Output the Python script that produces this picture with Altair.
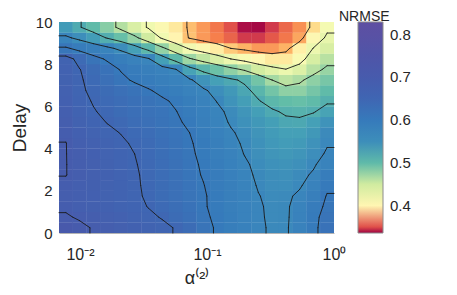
import altair as alt
import numpy as np
import pandas as pd

# ---- data ----
alpha = [0.007746, 0.009938, 0.01275, 0.01636, 0.02100, 0.02694, 0.03457, 0.04436,
         0.05693, 0.07304, 0.09373, 0.1202, 0.1542, 0.1978, 0.2539, 0.3257,
         0.4179, 0.5362, 0.6882, 0.8829]
delay = [0.25, 0.75, 1.25, 1.75, 2.25, 2.75, 3.25, 3.75, 4.25, 4.75,
         5.25, 5.75, 6.25, 6.75, 7.25, 7.75, 8.25, 8.75, 9.25, 9.75]

d9_75 = [0.535, 0.517, 0.499, 0.482, 0.463, 0.442, 0.422, 0.407, 0.392, 0.377, 0.368, 0.360, 0.350, 0.338, 0.337, 0.346, 0.356, 0.366, 0.385, 0.419]
d9_25 = [0.566, 0.551, 0.533, 0.513, 0.495, 0.477, 0.450, 0.421, 0.399, 0.378, 0.368, 0.362, 0.355, 0.346, 0.346, 0.352, 0.360, 0.371, 0.405, 0.430]
d8_75 = [0.610, 0.594, 0.582, 0.568, 0.552, 0.529, 0.504, 0.477, 0.448, 0.421, 0.407, 0.394, 0.380, 0.374, 0.368, 0.368, 0.374, 0.396, 0.426, 0.443]
d8_25 = [0.665, 0.638, 0.616, 0.601, 0.588, 0.575, 0.563, 0.530, 0.501, 0.473, 0.457, 0.442, 0.425, 0.414, 0.402, 0.392, 0.392, 0.412, 0.444, 0.461]
d7_75 = [0.667, 0.651, 0.635, 0.619, 0.603, 0.593, 0.583, 0.572, 0.561, 0.527, 0.506, 0.493, 0.479, 0.466, 0.448, 0.436, 0.426, 0.439, 0.461, 0.475]
d7_25 = [0.671, 0.654, 0.639, 0.626, 0.612, 0.601, 0.592, 0.583, 0.573, 0.564, 0.545, 0.529, 0.520, 0.510, 0.490, 0.470, 0.459, 0.466, 0.479, 0.488]
d6_75 = [0.675, 0.655, 0.644, 0.635, 0.626, 0.617, 0.608, 0.597, 0.586, 0.574, 0.564, 0.551, 0.538, 0.522, 0.506, 0.490, 0.479, 0.479, 0.489, 0.499]
d6_25 = [0.677, 0.659, 0.648, 0.639, 0.632, 0.624, 0.617, 0.610, 0.600, 0.586, 0.573, 0.559, 0.545, 0.531, 0.517, 0.504, 0.497, 0.495, 0.499, 0.511]
d5_75 = [0.682, 0.664, 0.652, 0.644, 0.636, 0.628, 0.621, 0.614, 0.606, 0.593, 0.580, 0.566, 0.554, 0.542, 0.530, 0.519, 0.511, 0.509, 0.513, 0.526]
d5_25 = [0.686, 0.671, 0.659, 0.649, 0.642, 0.633, 0.625, 0.617, 0.610, 0.599, 0.585, 0.571, 0.557, 0.547, 0.538, 0.530, 0.521, 0.520, 0.529, 0.545]
d4_75 = [0.691, 0.677, 0.666, 0.657, 0.649, 0.640, 0.632, 0.623, 0.614, 0.605, 0.591, 0.576, 0.563, 0.553, 0.543, 0.535, 0.529, 0.529, 0.538, 0.555]
d4_25 = [0.6955, 0.683, 0.673, 0.663, 0.655, 0.646, 0.637, 0.628, 0.618, 0.608, 0.596, 0.583, 0.568, 0.556, 0.547, 0.539, 0.534, 0.536, 0.546, 0.558]
d3_75 = [0.6955, 0.686, 0.676, 0.666, 0.658, 0.650, 0.639, 0.629, 0.619, 0.610, 0.598, 0.585, 0.572, 0.559, 0.549, 0.542, 0.538, 0.542, 0.551, 0.563]
d3_25 = [0.6955, 0.688, 0.679, 0.670, 0.661, 0.652, 0.642, 0.632, 0.622, 0.612, 0.601, 0.589, 0.576, 0.564, 0.553, 0.547, 0.544, 0.548, 0.557, 0.571]
d2_75 = [0.6955, 0.688, 0.680, 0.672, 0.664, 0.654, 0.643, 0.633, 0.623, 0.613, 0.603, 0.592, 0.579, 0.566, 0.556, 0.550, 0.548, 0.554, 0.563, 0.589]
d2_25 = [0.691, 0.684, 0.678, 0.671, 0.663, 0.654, 0.645, 0.635, 0.625, 0.615, 0.606, 0.593, 0.582, 0.570, 0.558, 0.552, 0.551, 0.557, 0.573, 0.599]
d1_75 = [0.688, 0.683, 0.677, 0.670, 0.663, 0.655, 0.646, 0.636, 0.626, 0.616, 0.608, 0.596, 0.584, 0.573, 0.561, 0.554, 0.555, 0.565, 0.584, 0.607]
d1_25 = [0.691, 0.684, 0.678, 0.672, 0.664, 0.658, 0.649, 0.639, 0.629, 0.619, 0.608, 0.597, 0.585, 0.574, 0.563, 0.555, 0.556, 0.571, 0.592, 0.611]
d0_75 = [0.698, 0.692, 0.686, 0.680, 0.673, 0.664, 0.656, 0.648, 0.636, 0.624, 0.611, 0.599, 0.587, 0.575, 0.564, 0.555, 0.556, 0.573, 0.597, 0.616]
d0_25 = [0.709, 0.701, 0.693, 0.686, 0.679, 0.672, 0.664, 0.657, 0.648, 0.635, 0.616, 0.601, 0.588, 0.576, 0.565, 0.556, 0.557, 0.573, 0.598, 0.619]

rows = [d0_25, d0_75, d1_25, d1_75, d2_25, d2_75, d3_25, d3_75, d4_25, d4_75,
        d5_25, d5_75, d6_25, d6_75, d7_25, d7_75, d8_25, d8_75, d9_25, d9_75]

contour_levels = [0.38, 0.425, 0.47, 0.515, 0.56, 0.605, 0.65, 0.695]

x_ticks = [0.01, 0.1, 1]
y_ticks = [0, 2, 4, 6, 8, 10]
cbar_ticks = [0.4, 0.5, 0.6, 0.7, 0.8]

# colour map (Spectral-like, as on the colour bar)
cmap_stops = [0.3356, 0.343, 0.350, 0.362, 0.374, 0.386, 0.400, 0.417, 0.45, 0.473,
              0.497, 0.53, 0.56, 0.60, 0.65, 0.72, 0.83]
cmap_colors = ["#9e0142", "#c52a4e", "#e0504a", "#f67f4c", "#fdb365", "#fee08f",
               "#fff6b2", "#f6fbb3", "#d0eba0", "#9dd6a4", "#62bda8", "#449fb7",
               "#3a86bc", "#367abb", "#3f66b3", "#4a57aa", "#5e4fa2"]

# ---- build tables ----
Z = np.array(rows)
la = np.log10(np.array(alpha))
step = float(np.mean(np.diff(la)))
x_lo = 10 ** (la[0] - step / 2)
x_hi = 10 ** (la[-1] + step / 2)
dy = 0.5
ov = 1.03  # tiny overlap so that neighbouring cells leave no hairline seams

cells = []
for i, d in enumerate(delay):
    for j in range(len(alpha)):
        cells.append(dict(a0=max(x_lo, 10 ** (la[j] - ov * step / 2)),
                          a1=min(x_hi, 10 ** (la[j] + ov * step / 2)),
                          d0=max(0.0, d - ov * dy / 2), d1=min(10.0, d + ov * dy / 2),
                          v=float(Z[i, j])))
cells = pd.DataFrame(cells)

# contour segments (marching squares on the grid; edges padded to reach the frame)
Xn = np.concatenate([[la[0] - step / 2], la, [la[-1] + step / 2]])
Yn = np.concatenate([[0.0], np.array(delay), [10.0]])
Zp = np.pad(Z, 1, mode="edge")


def segments(level):
    out = []
    ny, nx = Zp.shape
    for i in range(ny - 1):
        for j in range(nx - 1):
            corners = [((Xn[j], Yn[i]), Zp[i, j]), ((Xn[j + 1], Yn[i]), Zp[i, j + 1]),
                       ((Xn[j + 1], Yn[i + 1]), Zp[i + 1, j + 1]), ((Xn[j], Yn[i + 1]), Zp[i + 1, j])]
            pts = []
            for k in range(4):
                (p1, v1), (p2, v2) = corners[k], corners[(k + 1) % 4]
                if (v1 < level) != (v2 < level):
                    t = (level - v1) / (v2 - v1)
                    pts.append((p1[0] + t * (p2[0] - p1[0]), p1[1] + t * (p2[1] - p1[1])))
                else:
                    pts.append(None)
            hit = [p for p in pts if p is not None]
            if len(hit) == 2:
                out.append((hit[0], hit[1]))
            elif len(hit) == 4:
                center = np.mean([c[1] for c in corners])
                if (center < level) == (corners[0][1] < level):
                    out.append((pts[0], pts[1]))
                    out.append((pts[2], pts[3]))
                else:
                    out.append((pts[3], pts[0]))
                    out.append((pts[1], pts[2]))
    return out


segs = []
for lev in contour_levels:
    for (p, q) in segments(lev):
        segs.append(dict(sx0=10 ** p[0], sy0=p[1], sx1=10 ** q[0], sy1=q[1], level=lev))
segs = pd.DataFrame(segs)

# ---- chart ----
TXT = "#262626"
xscale = alt.Scale(type="log", domain=[x_lo, x_hi], nice=False)
yscale = alt.Scale(domain=[0, 10], nice=False)
cscale = alt.Scale(domain=cmap_stops, range=cmap_colors, interpolate="rgb")

xaxis = alt.Axis(values=x_ticks, title="α⁽²⁾",
                 labelExpr="datum.value < 0.05 ? '10⁻²' : (datum.value < 0.5 ? '10⁻¹' : '10⁰')",
                 grid=False, ticks=False, domain=True, domainColor="#b4b4b4",
                 labelFontSize=16, titleFontSize=18, titleFontWeight="normal",
                 labelPadding=13, titleBaseline="bottom", titleY=54,
                 labelColor=TXT, titleColor=TXT, labelFlush=False)
yaxis = alt.Axis(values=y_ticks, title="Delay", grid=False, ticks=False, domain=False,
                 labelFontSize=15, titleFontSize=19, titleFontWeight="normal",
                 labelPadding=7, titlePadding=6, labelColor=TXT, titleColor=TXT)

heat = alt.Chart(cells).mark_rect().encode(
    x=alt.X("a0:Q", scale=xscale, axis=xaxis),
    x2="a1:Q",
    y=alt.Y("d0:Q", scale=yscale, axis=yaxis),
    y2="d1:Q",
    color=alt.Color("v:Q", scale=cscale,
                    legend=alt.Legend(type="gradient", title=None, orient="none",
                                      legendX=299, legendY=0, padding=0,
                                      direction="vertical", gradientLength=211,
                                      gradientThickness=25, values=cbar_ticks, format=".1f",
                                      labelFontSize=15, labelColor=TXT, labelOffset=7,
                                      gradientStrokeColor="#8c8c8c",
                                      gradientStrokeWidth=1)),
)

lines = alt.Chart(segs).mark_rule(color="#1a1a1a", strokeWidth=0.9, strokeCap="round").encode(
    x=alt.X("sx0:Q", scale=xscale, axis=xaxis),
    x2="sx1:Q",
    y=alt.Y("sy0:Q", scale=yscale, axis=yaxis),
    y2="sy1:Q",
)

chart = alt.layer(heat, lines).properties(
    width=275, height=211,
    title=alt.TitleParams(text="NRMSE", anchor="start", frame="group", dx=280, dy=11,
                          offset=2, fontSize=14, fontWeight="normal", color=TXT),
    autosize=alt.AutoSizeParams(type="none"),
    padding={"left": 51, "top": 14, "right": 110, "bottom": 54},
).configure(font="Liberation Sans").configure_view(stroke=None)

chart.save("out.html", embed_options={"renderer": "svg", "actions": False})
